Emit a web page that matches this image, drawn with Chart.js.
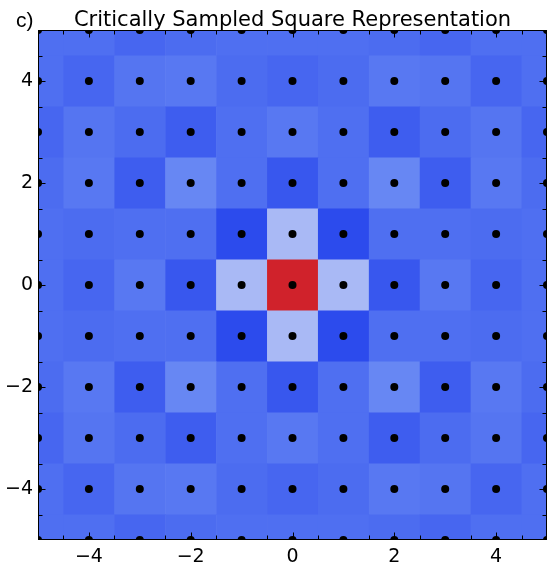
<!DOCTYPE html>
<html><head><meta charset="utf-8">
<script src="https://cdn.jsdelivr.net/npm/chart.js@4"></script>
<style>html,body{margin:0;padding:0;background:#fff}#wrap{width:551px;height:567px}</style>
</head><body><div id="wrap"><canvas id="c" width="551" height="567"></canvas></div>
<script>
// ---- data ----
const titleText = 'Critically Sampled Square Representation';
const panelLabel = 'c)';
const xCenters = [-5, -4, -3, -2, -1, 0, 1, 2, 3, 4, 5];
const yCenters = [5, 4, 3, 2, 1, 0, -1, -2, -3, -4, -5];
// cell values, rows from y=5 (top) to y=-5 (bottom), columns x=-5..5
const rowY5  = [0.12, 0.12, 0.09, 0.11, 0.12, 0.12, 0.12, 0.11, 0.09, 0.12, 0.12];
const rowY4  = [0.12, 0.09, 0.14, 0.15, 0.11, 0.09, 0.11, 0.15, 0.14, 0.09, 0.12];
const rowY3  = [0.09, 0.14, 0.11, 0.06, 0.12, 0.15, 0.12, 0.06, 0.11, 0.14, 0.09];
const rowY2  = [0.11, 0.15, 0.06, 0.20, 0.12, 0.04, 0.12, 0.20, 0.06, 0.15, 0.11];
const rowY1  = [0.12, 0.11, 0.12, 0.12, 0.00, 0.45, 0.00, 0.12, 0.12, 0.11, 0.12];
const rowY0  = [0.12, 0.09, 0.15, 0.04, 0.45, 1.00, 0.45, 0.04, 0.15, 0.09, 0.12];
const rowYm1 = [0.12, 0.11, 0.12, 0.12, 0.00, 0.45, 0.00, 0.12, 0.12, 0.11, 0.12];
const rowYm2 = [0.11, 0.15, 0.06, 0.20, 0.12, 0.04, 0.12, 0.20, 0.06, 0.15, 0.11];
const rowYm3 = [0.09, 0.14, 0.11, 0.06, 0.12, 0.15, 0.12, 0.06, 0.11, 0.14, 0.09];
const rowYm4 = [0.12, 0.09, 0.14, 0.15, 0.11, 0.09, 0.11, 0.15, 0.14, 0.09, 0.12];
const rowYm5 = [0.12, 0.12, 0.09, 0.11, 0.12, 0.12, 0.12, 0.11, 0.09, 0.12, 0.12];
const cellRows = [rowY5, rowY4, rowY3, rowY2, rowY1, rowY0, rowYm1, rowYm2, rowYm3, rowYm4, rowYm5];
const sampleX = [-5, -4, -3, -2, -1, 0, 1, 2, 3, 4, 5];
const sampleY = [-5, -4, -3, -2, -1, 0, 1, 2, 3, 4, 5];
const majorTicks = [-4, -2, 0, 2, 4];
const minorTicks = [-4.5, -3.5, -2.5, -1.5, -0.5, 0.5, 1.5, 2.5, 3.5, 4.5];

// ---- styles ----
const colorStops = [[0, [44, 75, 237]], [0.2, [103, 135, 243]], [0.45, [169, 185, 245]], [1, [208, 34, 43]]];
function colorFor(v) {
  for (let i = 1; i < colorStops.length; i++) {
    const [v1, c1] = colorStops[i];
    const [v0, c0] = colorStops[i - 1];
    if (v <= v1) {
      const t = (v - v0) / (v1 - v0);
      const c = c0.map((a, k) => Math.round(a + (c1[k] - a) * t));
      return `rgb(${c[0]},${c[1]},${c[2]})`;
    }
  }
  const c = colorStops[colorStops.length - 1][1];
  return `rgb(${c[0]},${c[1]},${c[2]})`;
}
const FONT = '"DejaVu Sans", sans-serif';
const LFONT = '"Liberation Sans", Arial, sans-serif';
const fmt = v => (v < 0 ? '\u2212' + Math.abs(v) : String(v));

const dots = [];
sampleY.forEach(y => sampleX.forEach(x => dots.push({x, y})));

const heatmapPlugin = {
  id: 'heatmap',
  beforeDatasetsDraw(chart) {
    const {ctx, chartArea: a} = chart;
    const xs = chart.scales.x, ys = chart.scales.y;
    ctx.save();
    ctx.beginPath();
    ctx.rect(a.left, a.top, a.right - a.left, a.bottom - a.top);
    ctx.clip();
    cellRows.forEach((row, j) => {
      const yc = yCenters[j];
      row.forEach((v, i) => {
        const xc = xCenters[i];
        const x0 = xs.getPixelForValue(xc - 0.5), x1 = xs.getPixelForValue(xc + 0.5);
        const y0 = ys.getPixelForValue(yc + 0.5), y1 = ys.getPixelForValue(yc - 0.5);
        ctx.fillStyle = colorFor(v);
        ctx.fillRect(x0, y0, x1 - x0 + 0.6, y1 - y0 + 0.6);
      });
    });
    ctx.restore();
  },
  afterDatasetsDraw(chart) {
    const {ctx, chartArea: a} = chart;
    const xs = chart.scales.x, ys = chart.scales.y;
    ctx.save();
    ctx.strokeStyle = '#000';
    ctx.lineWidth = 1;
    const L = Math.round(a.left) + 0.5, R = Math.round(a.right) - 0.5;
    const T = Math.round(a.top) + 0.5, B = Math.round(a.bottom) - 0.5;
    ctx.beginPath();
    const tick = (vals, len) => {
      vals.forEach(v => {
        const px = Math.round(xs.getPixelForValue(v)) + 0.5;
        ctx.moveTo(px, B); ctx.lineTo(px, B - len);
        ctx.moveTo(px, T); ctx.lineTo(px, T + len);
        const py = Math.round(ys.getPixelForValue(v)) + 0.5;
        ctx.moveTo(L, py); ctx.lineTo(L + len, py);
        ctx.moveTo(R, py); ctx.lineTo(R - len, py);
      });
    };
    tick(minorTicks, 4);
    tick(majorTicks, 7);
    ctx.stroke();
    ctx.strokeRect(L, T, R - L, B - T);
    ctx.restore();
  },
  afterDraw(chart) {
    const {ctx} = chart;
    ctx.save();
    ctx.fillStyle = '#000';
    ctx.font = `21px ${LFONT}`;
    ctx.textBaseline = 'middle';
    ctx.textAlign = 'left';
    ctx.fillText(panelLabel, 16, 21);
    ctx.restore();
  }
};

new Chart(document.getElementById('c'), {
  type: 'scatter',
  data: {
    datasets: [{
      data: dots,
      pointRadius: 4,
      pointHoverRadius: 4,
      backgroundColor: '#000',
      borderColor: '#000',
      borderWidth: 0,
      clip: 0
    }]
  },
  options: {
    responsive: false,
    animation: false,
    events: [],
    layout: {padding: {left: 0, right: 2, top: 0, bottom: 0}},
    plugins: {
      legend: {display: false},
      tooltip: {enabled: false},
      title: {
        display: true,
        text: titleText,
        fullSize: false,
        color: '#000',
        font: {family: FONT, size: 21, weight: 'normal', lineHeight: 1},
        padding: {top: 10.5, bottom: -1.5}
      }
    },
    scales: {
      x: {
        type: 'linear', min: -5, max: 5,
        afterBuildTicks: s => { s.ticks = majorTicks.map(v => ({value: v})); },
        afterFit: s => { s.height = 27; },
        grid: {display: false, drawTicks: false},
        border: {display: false},
        ticks: {color: '#000', font: {family: FONT, size: 19}, padding: 6, maxRotation: 0, autoSkip: false, callback: v => fmt(v)}
      },
      y: {
        type: 'linear', min: -5, max: 5,
        afterBuildTicks: s => { s.ticks = majorTicks.map(v => ({value: v})); },
        afterFit: s => { s.width = 38; },
        grid: {display: false, drawTicks: false},
        border: {display: false},
        ticks: {color: '#000', font: {family: FONT, size: 19}, padding: 5, autoSkip: false, callback: v => fmt(v)}
      }
    }
  },
  plugins: [heatmapPlugin]
});
</script>
</body></html>
